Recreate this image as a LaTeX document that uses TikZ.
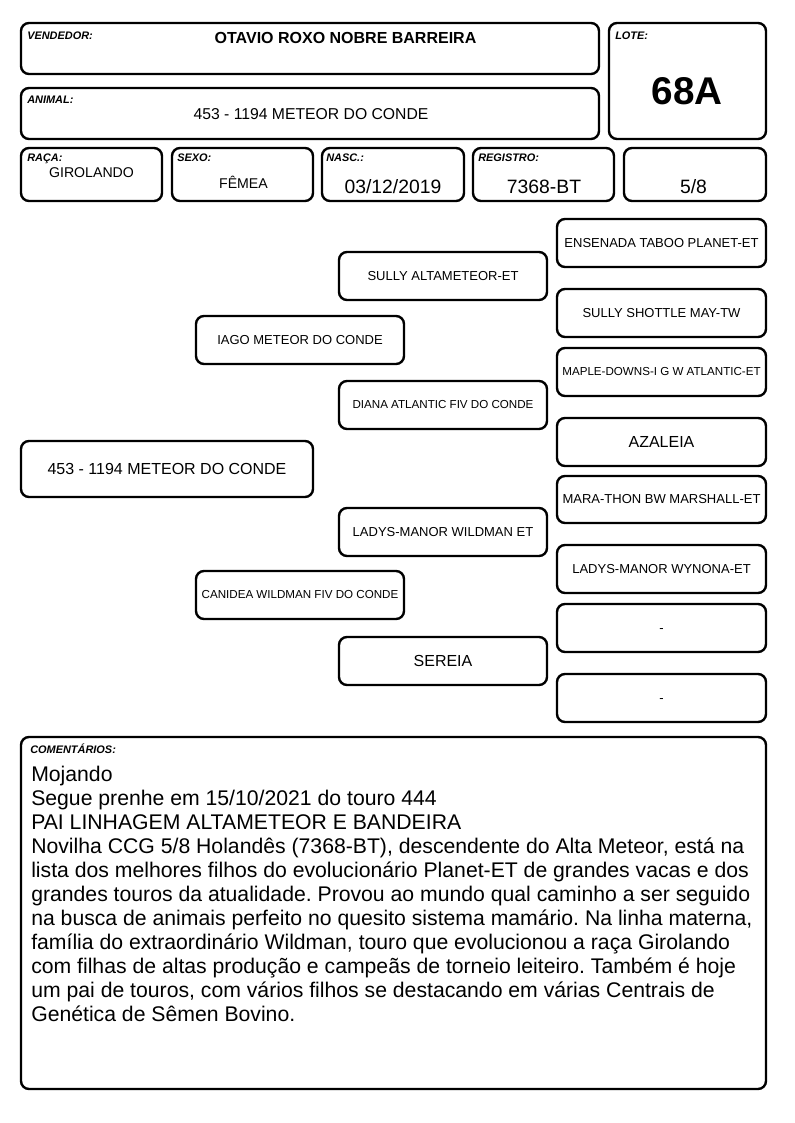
\documentclass[tikz,border=0pt]{standalone}
\usepackage{fontspec}
\setmainfont{Liberation Sans}
\frenchspacing

\begin{document}
\begin{tikzpicture}[x=0.75pt,y=-0.75pt,
    box/.style 2 args={draw=black,line width=1.8pt,rounded corners=6pt,
      minimum width=#1*0.75pt,minimum height=#2*0.75pt,inner sep=0pt,align=center},
    lbl/.style={inner sep=0pt,anchor=base west,font=\fontsize{8.2}{9}\selectfont\bfseries\itshape},
    val/.style={inner sep=0pt,anchor=base,font=\fontsize{11}{13}\selectfont},
    ped/.style={box={208}{48},font=\fontsize{9.75}{11}\selectfont},
    bis/.style={box={209}{48},font=\fontsize{9.75}{11}\selectfont},
    pedsmall/.style={font=\fontsize{8.7}{10}\selectfont},
    pedlarge/.style={font=\fontsize{12}{14}\selectfont},
    pedblank/.style={text height=0.716em,text depth=0pt}]
  \useasboundingbox (0,0) rectangle (794,1123);

  % header boxes
  \node[box={578}{51}] (vend) at (310,48.5) {};
  \node[box={157}{116}] (lote) at (687.5,81) {};
  \node[box={578}{51}] (anim) at (310,113.5) {};
  \node[box={141}{53}] (raca) at (91.5,174.5) {};
  \node[box={141}{53}] (sexo) at (242.5,174.5) {};
  \node[box={142}{53}] (nasc) at (393,174.5) {};
  \node[box={141}{53}] (regi) at (543.5,174.5) {};
  \node[box={142}{53}] (grau) at (695,174.5) {};

  \node[lbl] (vendL) at (27,40) {VENDEDOR:};
  \node[lbl] (loteL) at (615,40) {LOTE:};
  \node[lbl] (animL) at (27,104) {ANIMAL:};
  \node[lbl] (racaL) at (27,162) {RAÇA:};
  \node[lbl] (sexoL) at (177,162) {SEXO:};
  \node[lbl] (nascL) at (326,162) {NASC.:};
  \node[lbl] (regiL) at (478,162) {REGISTRO:};

  \node[val,font=\fontsize{12}{14}\selectfont\bfseries] (vendV) at (345.5,43.5) {OTAVIO ROXO NOBRE BARREIRA};
  \node[val,font=\fontsize{29}{32}\selectfont\bfseries] (loteV) at (687,105) {68A};
  \node[val,font=\fontsize{11.8}{14}\selectfont] (animV) at (311,119.5) {453 - 1194 METEOR DO CONDE};
  \node[val,font=\fontsize{10.6}{12}\selectfont] (racaV) at (91.5,178) {GIROLANDO};
  \node[val,font=\fontsize{10.6}{12}\selectfont] (sexoV) at (243.5,189) {FÊMEA};
  \node[val,font=\fontsize{14.5}{17}\selectfont] (nascV) at (393,193.5) {03/12/2019};
  \node[val,font=\fontsize{14.5}{17}\selectfont] (regiV) at (544,193.5) {7368-BT};
  \node[val,font=\fontsize{14.5}{17}\selectfont] (grauV) at (693.5,193.5) {5/8};

  % pedigree
  \node[box={292}{56},pedlarge] (p0) at (167,469) {453 - 1194 METEOR DO CONDE};
  \node[ped] (p1) at (300,340) {IAGO METEOR DO CONDE};
  \node[ped,pedsmall] (p2) at (300,595) {CANIDEA WILDMAN FIV DO CONDE};
  \node[ped] (p11) at (443,276) {SULLY ALTAMETEOR-ET};
  \node[ped,pedsmall] (p12) at (443,405) {DIANA ATLANTIC FIV DO CONDE};
  \node[ped] (p21) at (443,532) {LADYS-MANOR WILDMAN ET};
  \node[ped,pedlarge] (p22) at (443,661) {SEREIA};
  \node[bis] (p111) at (661.5,243) {ENSENADA TABOO PLANET-ET};
  \node[bis] (p112) at (661.5,313) {SULLY SHOTTLE MAY-TW};
  \node[bis,pedsmall] (p121) at (661.5,372) {MAPLE-DOWNS-I G W ATLANTIC-ET};
  \node[bis,pedlarge] (p122) at (661.5,442) {AZALEIA};
  \node[bis,minimum height=47*0.75pt] (p211) at (661.5,499.5) {MARA-THON BW MARSHALL-ET};
  \node[bis] (p212) at (661.5,569) {LADYS-MANOR WYNONA-ET};
  \node[bis,pedblank] (p221) at (661.5,628) {-};
  \node[bis,pedblank] (p222) at (661.5,698) {-};

  % comments
  \node[box={745}{352}] (com) at (393.5,913) {};
  \node[lbl] (comL) at (30,753) {COMENTÁRIOS:};
  \node[anchor=north west,inner sep=0pt,align=left,font=\fontsize{15.9}{18}\selectfont] (comV) at (31,765.5) {Mojando\\
    Segue prenhe em 15/10/2021 do touro 444\\
    PAI LINHAGEM ALTAMETEOR E BANDEIRA\\
    Novilha CCG 5/8 Holandês (7368-BT), descendente do Alta Meteor, está na\\
    lista dos melhores filhos do evolucionário Planet-ET de grandes vacas e dos\\
    grandes touros da atualidade. Provou ao mundo qual caminho a ser seguido\\
    na busca de animais perfeito no quesito sistema mamário. Na linha materna,\\
    família do extraordinário Wildman, touro que evolucionou a raça Girolando\\
    com filhas de altas produção e campeãs de torneio leiteiro. Também é hoje\\
    um pai de touros, com vários filhos se destacando em várias Centrais de\\
    Genética de Sêmen Bovino.};
\end{tikzpicture}
\end{document}
